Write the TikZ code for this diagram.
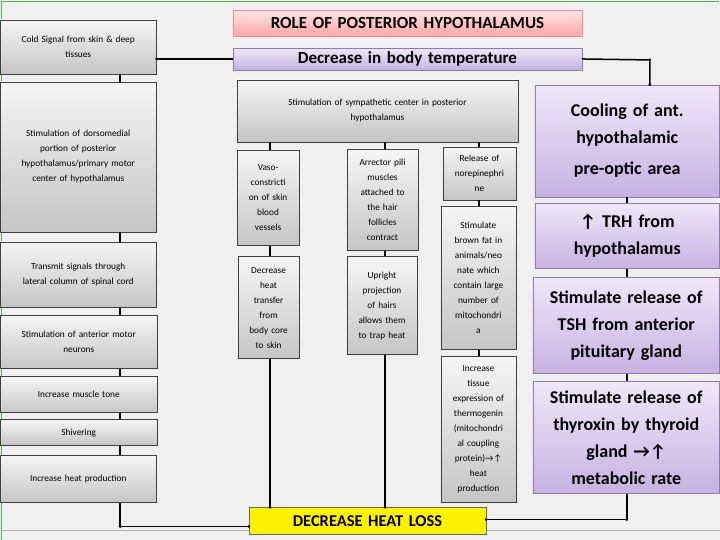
\documentclass[tikz,border=0pt]{standalone}
\usepackage{fontspec}
\setmainfont{Carlito}
\definecolor{lavtop}{HTML}{EEE8F8}
\definecolor{lavbot}{HTML}{C6B2E2}
\definecolor{lavdraw}{HTML}{8E7AAE}
\begin{document}
\begin{tikzpicture}[x=1pt,y=-1pt,
  gbox/.style={draw=black!75,line width=0.6pt,top color=gray!8,bottom color=gray!45,align=center,font=\fontsize{9.3}{15}\selectfont,inner sep=0pt},
  pbox/.style={draw=lavdraw,line width=0.6pt,top color=lavtop,bottom color=lavbot,align=center,font=\bfseries\fontsize{18}{27}\selectfont,inner sep=0pt},
  conn/.style={line width=1.5pt,black},
  dotend/.style={circle,fill=black,inner sep=0pt,minimum size=3pt}]
\fill[green!4!gray!12!white] (0,0) rectangle (720,540);
\draw[green!40!gray,line width=0.8pt] (1,540) -- (1,1) -- (719,1);
\draw[gray!60,line width=0.5pt] (1,531) -- (720,531);
\newcommand{\bx}[8]{\node[#1,minimum width={#4-#2},minimum height={#5-#3},text width={#4-#2-#8}] (#6) at ({(#2+#4)/2},{(#3+#5)/2}) {#7};}
\bx{draw=red!45,top color=red!10,bottom color=red!35,font=\bfseries\fontsize{17}{18}\selectfont,align=center,inner sep=0pt}{233}{10}{582}{36}{title}{ROLE OF POSTERIOR HYPOTHALAMUS}{2}
\bx{draw=lavdraw,top color=lavtop,bottom color=lavbot,font=\bfseries\fontsize{17}{18}\selectfont,align=center,inner sep=0pt}{233}{48}{582}{70}{dec}{Decrease in body temperature}{2}
\bx{gbox}{0}{20}{156}{74}{cold}{Cold Signal from skin \& deep\\tissues}{2}
\bx{gbox}{0}{82}{156}{232}{dorso}{Stimulation of dorsomedial\\portion of posterior\\hypothalamus/primary motor\\center of hypothalamus}{2}
\bx{gbox}{0}{242}{156}{308}{trans}{Transmit signals through\\lateral column of spinal cord}{2}
\bx{gbox}{0}{316}{157}{369}{motor}{Stimulation of anterior motor\\neurons}{2}
\bx{gbox}{0}{377}{157}{413}{tone}{Increase muscle tone}{2}
\bx{gbox}{0}{420}{157}{446}{shiv}{Shivering}{2}
\bx{gbox}{0}{456}{156}{503}{heat}{Increase heat production}{2}
\bx{gbox}{237}{80}{518}{142}{symp}{Stimulation of sympathetic center in posterior\\hypothalamus}{2}
\bx{gbox}{237}{150}{299}{246}{vaso}{Vaso-\\constricti\\on of skin\\blood\\vessels}{2}
\bx{gbox}{238}{257}{299}{359}{transfer}{Decrease\\heat\\transfer\\from\\body core\\to skin}{2}
\bx{gbox}{347}{149}{418}{251}{arr}{Arrector pili\\muscles\\attached to\\the hair\\follicles\\contract}{2}
\bx{gbox}{347}{257}{417}{355}{up}{Upright\\projection\\of hairs\\allows them\\to trap heat}{2}
\bx{gbox}{443}{147}{516}{200}{ne}{Release of\\norepinephri\\ne}{2}
\bx{gbox}{441}{206}{516}{350}{brown}{Stimulate\\brown fat in\\animals/neo\\nate which\\contain large\\number of\\mitochondri\\a}{2}
\bx{gbox}{441}{357}{516}{503}{therm}{Increase\\tissue\\expression of\\thermogenin\\(mitochondri\\al coupling\\protein)→↑\\heat\\production}{2}
\bx{draw=black!60,fill=yellow,font=\bfseries\fontsize{16.5}{18}\selectfont,align=center,inner sep=0pt}{249}{508}{486}{535}{loss}{DECREASE HEAT LOSS}{2}
\bx{pbox}{535}{85}{720}{197}{cool}{Cooling of ant.\\hypothalamic\\[4pt]pre-optic area}{2}
\bx{pbox}{535}{203}{720}{269}{trh}{↑ TRH from\\hypothalamus}{2}
\bx{pbox}{533}{278}{720}{374}{tsh}{Stimulate release of\\TSH from anterior\\pituitary gland}{2}
\bx{pbox}{533}{382}{720}{494}{thy}{Stimulate release of\\thyroxin by thyroid\\gland →↑\\metabolic rate}{2}
% connectors
\draw[conn] (cold.east |- dec.west) -- (dec.west);
\node[dotend] at (cold.east |- dec.west) {};
\coordinate (c1) at (650,60);
\draw[conn] (dec.east) -- (c1) -- (cool.north -| c1);
\node[dotend] at (c1) {}; \node[dotend] at (cool.north -| c1) {};
\foreach \a/\b in {cold/dorso,dorso/trans,trans/motor,motor/tone,tone/shiv,shiv/heat}
  \draw[conn] (120,0 |- \a.south) -- (120,0 |- \b.north);
\coordinate (c2) at (120,527);
\draw[conn] (heat.south -| c2) -- (c2) -- (loss.west |- c2);
\node[dotend] at (c2) {}; \node[dotend] at (loss.west |- c2) {};
\draw[conn] (symp.south -| 270,0) -- (vaso.north -| 270,0);
\draw[conn] (vaso.south -| 270,0) -- (transfer.north -| 270,0);
\draw[conn] (transfer.south -| 270,0) -- (loss.north -| 270,0);
\node[dotend] at (loss.north -| 270,0) {};
\draw[conn] (symp.south -| 385,0) -- (arr.north -| 385,0);
\draw[conn] (arr.south -| 385,0) -- (up.north -| 385,0);
\draw[conn] (up.south -| 385,0) -- (loss.north -| 385,0);
\node[dotend] at (loss.north -| 385,0) {};
\draw[conn] (symp.south -| 479,0) -- (ne.north -| 479,0);
\draw[conn] (ne.south -| 479,0) -- (brown.north -| 479,0);
\draw[conn] (brown.south -| 479,0) -- (therm.north -| 479,0);
\foreach \a/\b in {cool/trh,trh/tsh,tsh/thy}
  \draw[conn] (\a.south -| 627,0) -- (\b.north -| 627,0);
\coordinate (c3) at (627,520);
\draw[conn] (thy.south -| c3) -- (c3) -- (loss.east |- c3);
\node[dotend] at (c3) {}; \node[dotend] at (loss.east |- c3) {};
\end{tikzpicture}
\end{document}
